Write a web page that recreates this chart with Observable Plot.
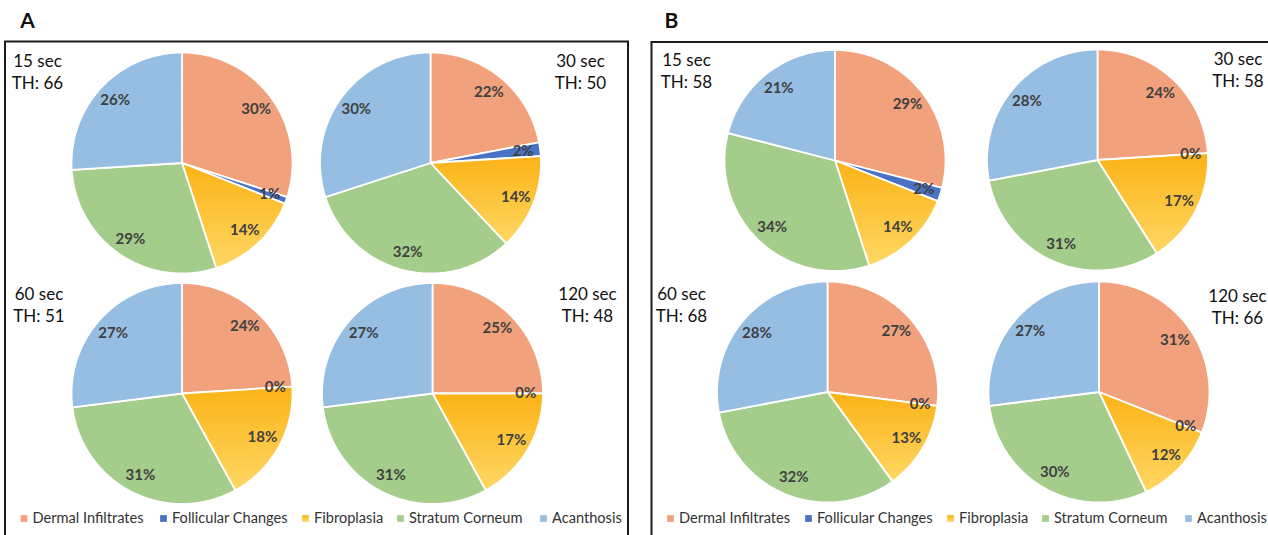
<!DOCTYPE html>
<html><head><meta charset="utf-8">
<script src="https://cdn.jsdelivr.net/npm/d3@7"></script>
<script src="https://cdn.jsdelivr.net/npm/@observablehq/plot@0.6"></script>
<style>html,body{margin:0;padding:0;overflow:hidden;background:#fff}</style>
</head><body><div id="chart"></div>
<script>
// ---- data ----
const categories = ["Dermal Infiltrates", "Follicular Changes", "Fibroplasia", "Stratum Corneum", "Acanthosis"];
const colors = ["#F1A17B", "#4A72C4", "url(#fibroGrad)", "#A4CD8C", "#96BDE2"];
const panelNames = ["A", "B"];
const times = ["15 sec", "30 sec", "60 sec", "120 sec"];
const thA = [66, 50, 51, 48];
const thB = [58, 58, 68, 66];
const pctA15 = [30, 1, 14, 29, 26];
const pctA30 = [22, 2, 14, 32, 30];
const pctA60 = [24, 0, 18, 31, 27];
const pctA120 = [25, 0, 17, 31, 27];
const pctB15 = [29, 2, 14, 34, 21];
const pctB30 = [24, 0, 17, 31, 28];
const pctB60 = [27, 0, 13, 32, 28];
const pctB120 = [31, 0, 12, 30, 27];

// ---- layout (pixel units of the figure) ----
const W = 1268, H = 535, R = 110.5;
const panelLayout = [
  {x1: 5, x2: 628, y1: 41.5, y2: 560, tx: 27, ty: 27},
  {x1: 651.5, x2: 1300, y1: 42, y2: 560, tx: 671, ty: 27}
];
const pieLayout = [
  {cx: 181.5, cy: 162.5, lx: 37, ly: 66},
  {cx: 430, cy: 162.5, lx: 580, ly: 66},
  {cx: 181.5, cy: 393, lx: 38.5, ly: 299},
  {cx: 432, cy: 393, lx: 587, ly: 299},
  {cx: 834.5, cy: 160, lx: 686, ly: 65},
  {cx: 1097, cy: 159.5, lx: 1237.5, ly: 64},
  {cx: 827, cy: 391.5, lx: 681, ly: 299},
  {cx: 1098.5, cy: 391.5, lx: 1237, ly: 301}
];
const legendSquareX = [[23.5, 163, 305, 400, 543], [670, 808, 950, 1045, 1188]];
const legendY = 518;

const values = [pctA15, pctA30, pctA60, pctA120, pctB15, pctB30, pctB60, pctB120];
const pies = values.map((v, i) => ({
  panel: i < 4 ? 0 : 1,
  time: times[i % 4],
  th: (i < 4 ? thA : thB)[i % 4],
  values: v,
  ...pieLayout[i]
}));

const slicePts = [], labels = [], headers = [];
pies.forEach((p, pi) => {
  const arcs = d3.pie().sort(null).value(d => d)(p.values);
  arcs.forEach((a, ci) => {
    const cat = categories[ci];
    const span = a.endAngle - a.startAngle;
    const mid = (a.startAngle + a.endAngle) / 2;
    const lr = R * (p.values[ci] < 5 ? 0.845 : 0.83);
    labels.push({x: p.cx + lr * Math.sin(mid), y: p.cy - lr * Math.cos(mid), text: p.values[ci] + "%"});
    if (span <= 0) return;
    const id = pi + "-" + ci;
    slicePts.push({id, cat, x: p.cx, y: p.cy});
    const n = Math.max(2, Math.ceil(span / (Math.PI / 180)));
    for (let k = 0; k <= n; k++) {
      const t = a.startAngle + span * k / n;
      slicePts.push({id, cat, x: p.cx + R * Math.sin(t), y: p.cy - R * Math.cos(t)});
    }
  });
  headers.push({x: p.lx, y: p.ly, text: p.time});
  headers.push({x: p.lx, y: p.ly + 22.5, text: "TH: " + p.th});
});

const legendItems = [];
panelNames.forEach((pn, i) => categories.forEach((c, ci) => legendItems.push({cat: c, x: legendSquareX[i][ci], y: legendY})));
const panels = panelNames.map((n, i) => ({name: n, ...panelLayout[i]}));

const svg = Plot.plot({
  width: W, height: H,
  margin: 0,
  x: {domain: [0, W], range: [0, W], axis: null},
  y: {domain: [0, H], range: [0, H], axis: null},
  color: {domain: categories, range: colors},
  style: {fontFamily: "Lato, 'Open Sans', sans-serif", background: "#fff", overflow: "hidden"},
  marks: [
    Plot.rect(panels, {x1: "x1", x2: "x2", y1: "y1", y2: "y2", fill: "none", stroke: "#1c1c1c", strokeWidth: 2}),
    Plot.text(panels, {x: "tx", y: "ty", text: "name", fontSize: 21, fontWeight: "bold", fill: "#111", lineAnchor: "bottom"}),
    Plot.line(slicePts, {x: "x", y: "y", z: "id", fill: "cat", stroke: "#fff", strokeWidth: 1.8, curve: "linear-closed"}),
    Plot.text(labels, {x: "x", y: "y", text: "text", fontSize: 15, fontWeight: "bold", fill: "#404040"}),
    Plot.text(headers, {x: "x", y: "y", text: "text", fontSize: 17, fill: "#111", lineAnchor: "bottom"}),
    Plot.dot(legendItems, {x: "x", y: "y", fill: "cat", symbol: "square", r: 3.8, stroke: null}),
    Plot.text(legendItems, {x: d => d.x + 8.5, y: d => d.y + 4.5, text: "cat", fontSize: 14.6, fill: "#333", textAnchor: "start", lineAnchor: "bottom"})
  ]
});

const defs = d3.select(svg).insert("defs", ":first-child");
const g = defs.append("linearGradient").attr("id", "fibroGrad").attr("x1", 0).attr("y1", 0).attr("x2", 0).attr("y2", 1);
g.append("stop").attr("offset", "0%").attr("stop-color", "#FBB316");
g.append("stop").attr("offset", "100%").attr("stop-color", "#FFD764");

document.getElementById("chart").appendChild(svg);
</script>
</body></html>
